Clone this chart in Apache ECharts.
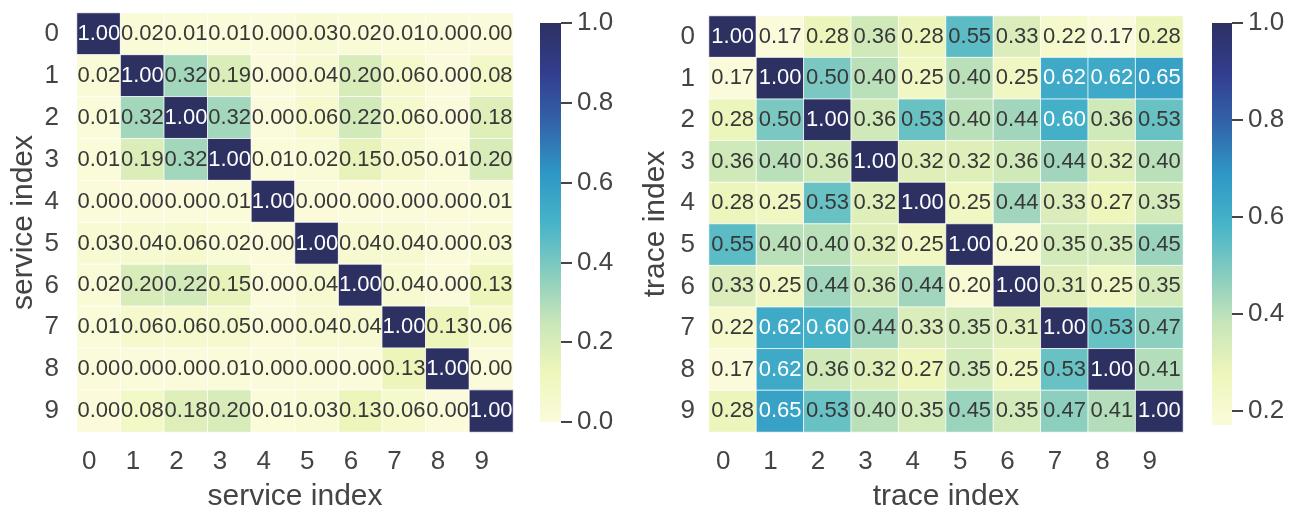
<!DOCTYPE html>
<html>
<head>
<meta charset="utf-8">
<script src="https://cdn.jsdelivr.net/npm/echarts@6/dist/echarts.min.js"></script>
<style>
html,body{margin:0;padding:0;background:#fff;}
#chart{width:1292px;height:517px;}
</style>
</head>
<body>
<div id="chart"></div>
<script>
const categories = ['0','1','2','3','4','5','6','7','8','9'];

const serviceCorr = [
  [1.00,0.02,0.01,0.01,0.00,0.03,0.02,0.01,0.00,0.00],
  [0.02,1.00,0.32,0.19,0.00,0.04,0.20,0.06,0.00,0.08],
  [0.01,0.32,1.00,0.32,0.00,0.06,0.22,0.06,0.00,0.18],
  [0.01,0.19,0.32,1.00,0.01,0.02,0.15,0.05,0.01,0.20],
  [0.00,0.00,0.00,0.01,1.00,0.00,0.00,0.00,0.00,0.01],
  [0.03,0.04,0.06,0.02,0.00,1.00,0.04,0.04,0.00,0.03],
  [0.02,0.20,0.22,0.15,0.00,0.04,1.00,0.04,0.00,0.13],
  [0.01,0.06,0.06,0.05,0.00,0.04,0.04,1.00,0.13,0.06],
  [0.00,0.00,0.00,0.01,0.00,0.00,0.00,0.13,1.00,0.00],
  [0.00,0.08,0.18,0.20,0.01,0.03,0.13,0.06,0.00,1.00]
];

const traceCorr = [
  [1.00,0.17,0.28,0.36,0.28,0.55,0.33,0.22,0.17,0.28],
  [0.17,1.00,0.50,0.40,0.25,0.40,0.25,0.62,0.62,0.65],
  [0.28,0.50,1.00,0.36,0.53,0.40,0.44,0.60,0.36,0.53],
  [0.36,0.40,0.36,1.00,0.32,0.32,0.36,0.44,0.32,0.40],
  [0.28,0.25,0.53,0.32,1.00,0.25,0.44,0.33,0.27,0.35],
  [0.55,0.40,0.40,0.32,0.25,1.00,0.20,0.35,0.35,0.45],
  [0.33,0.25,0.44,0.36,0.44,0.20,1.00,0.31,0.25,0.35],
  [0.22,0.62,0.60,0.44,0.33,0.35,0.31,1.00,0.53,0.47],
  [0.17,0.62,0.36,0.32,0.27,0.35,0.25,0.53,1.00,0.41],
  [0.28,0.65,0.53,0.40,0.35,0.45,0.35,0.47,0.41,1.00]
];

const serviceRange = [0, 1];
const traceRange = [0.17, 1];
const serviceTicks = [0, 0.2, 0.4, 0.6, 0.8, 1.0];
const traceTicks = [0.2, 0.4, 0.6, 0.8, 1.0];
const colorbarValue = [1];

const cmap = ['#fbfbdb','#eef6bb','#c9e6b9','#86ccbf','#46b4c8','#2e97c5','#3264a9','#333d8f','#2d3161'];

const FONT = "'Liberation Sans', Arial, Helvetica, sans-serif";
const TXT = '#444444';

function cellData(mat, range) {
  const out = [];
  const span = range[1] - range[0];
  for (let i = 0; i < mat.length; i++) {
    for (let j = 0; j < mat[i].length; j++) {
      const v = mat[i][j];
      const t = (v - range[0]) / span;
      out.push({ value: [j, i, v], label: { color: t > 0.5 ? '#ffffff' : '#383838' } });
    }
  }
  return out;
}

function gradient() {
  return new echarts.graphic.LinearGradient(0, 1, 0, 0,
    cmap.map((c, k) => ({ offset: k / (cmap.length - 1), color: c })));
}

function catX(idx, name) {
  return {
    type: 'category', gridIndex: idx, data: categories, position: 'bottom',
    axisLine: { show: false }, axisTick: { show: false }, splitArea: { show: false },
    axisLabel: { fontSize: 26, color: TXT, fontFamily: FONT, margin: 17, padding: [0, 19, 0, 0] },
    name: name, nameLocation: 'middle', nameGap: 50,
    nameTextStyle: { fontSize: 30, color: TXT, fontFamily: FONT }
  };
}
function catY(idx, name, margin, gap) {
  return {
    type: 'category', gridIndex: idx, data: categories, inverse: true,
    axisLine: { show: false }, axisTick: { show: false }, splitArea: { show: false },
    axisLabel: { fontSize: 26, color: TXT, fontFamily: FONT, margin: margin },
    name: name, nameLocation: 'middle', nameGap: gap,
    nameTextStyle: { fontSize: 30, color: TXT, fontFamily: FONT }
  };
}
function cbX(idx) {
  return { type: 'category', gridIndex: idx, data: ['c'], show: false };
}
function cbY(idx, range, ticks) {
  return {
    type: 'value', gridIndex: idx, min: range[0], max: range[1], position: 'right',
    axisLine: { show: false }, splitLine: { show: false },
    axisTick: { show: true, length: 11, customValues: ticks, lineStyle: { color: TXT, width: 2 } },
    axisLabel: { customValues: ticks, formatter: v => v.toFixed(1), fontSize: 26, color: TXT, fontFamily: FONT, margin: 16 }
  };
}

const chart = echarts.init(document.getElementById('chart'), null, { renderer: 'canvas' });
chart.setOption({
  backgroundColor: '#ffffff',
  animation: false,
  grid: [
    { left: 77, top: 13, width: 436, height: 419 },
    { left: 709, top: 16, width: 474, height: 420 },
    { left: 540, top: 23, width: 21, height: 399 },
    { left: 1212, top: 23, width: 20, height: 402 }
  ],
  xAxis: [catX(0, 'service index'), catX(1, 'trace index'), cbX(2), cbX(3)],
  yAxis: [catY(0, 'service index', 18, 38), catY(1, 'trace index', 14, 38),
          cbY(2, serviceRange, serviceTicks), cbY(3, traceRange, traceTicks)],
  visualMap: [
    { show: false, seriesIndex: 0, min: serviceRange[0], max: serviceRange[1], dimension: 2, inRange: { color: cmap } },
    { show: false, seriesIndex: 1, min: traceRange[0], max: traceRange[1], dimension: 2, inRange: { color: cmap } }
  ],
  series: [
    {
      type: 'heatmap', xAxisIndex: 0, yAxisIndex: 0, data: cellData(serviceCorr, serviceRange),
      itemStyle: { borderColor: 'rgba(255,255,255,0.8)', borderWidth: 1 },
      label: { show: true, fontSize: 22, fontFamily: FONT, formatter: p => p.value[2].toFixed(2) },
      emphasis: { disabled: true }
    },
    {
      type: 'heatmap', xAxisIndex: 1, yAxisIndex: 1, data: cellData(traceCorr, traceRange),
      itemStyle: { borderColor: 'rgba(255,255,255,0.8)', borderWidth: 1 },
      label: { show: true, fontSize: 22, fontFamily: FONT, formatter: p => p.value[2].toFixed(2) },
      emphasis: { disabled: true }
    },
    {
      type: 'bar', xAxisIndex: 2, yAxisIndex: 2, data: colorbarValue, barWidth: '100%', clip: true,
      itemStyle: { color: gradient() }, silent: true
    },
    {
      type: 'bar', xAxisIndex: 3, yAxisIndex: 3, data: colorbarValue, barWidth: '100%', clip: true,
      itemStyle: { color: gradient() }, silent: true
    }
  ]
});
</script>
</body>
</html>
